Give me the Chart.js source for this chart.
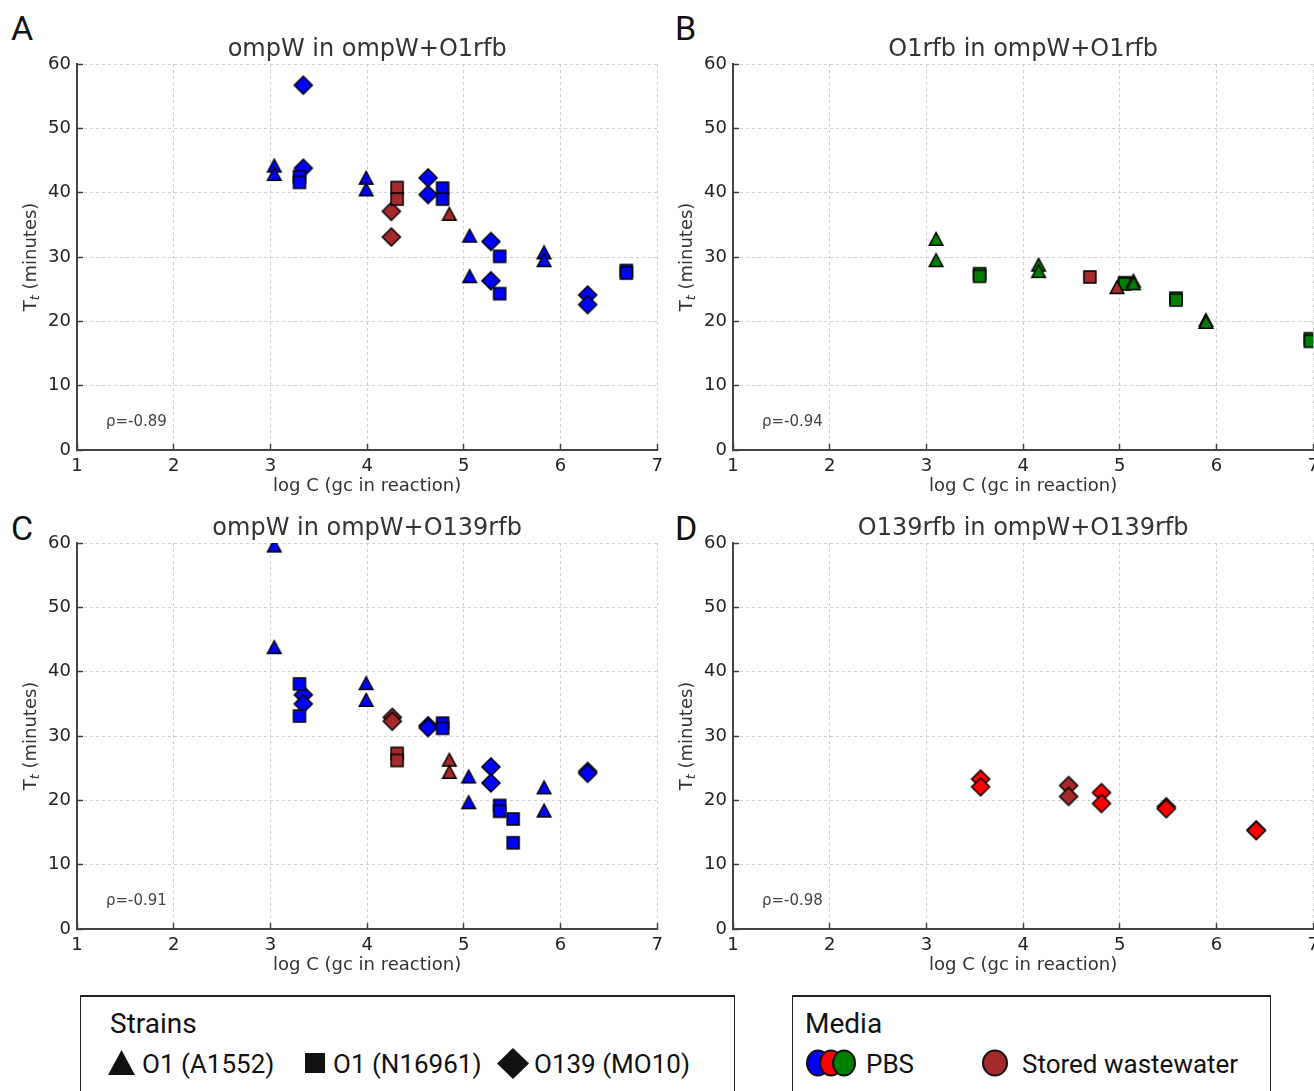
<!DOCTYPE html>
<html>
<head>
<meta charset="utf-8">
<script src="https://cdn.jsdelivr.net/npm/chart.js@4.4.1/dist/chart.umd.min.js"></script>
<style>
  html, body { margin: 0; padding: 0; background: #fff; }
  body { width: 1314px; height: 1091px; overflow: hidden; position: relative; font-family: Roboto, sans-serif; }
  .panel { position: absolute; width: 675px; height: 505px; }
  .letter { position: absolute; font-size: 34px; line-height: 34px; color: #111; }
  .box { position: absolute; top: 995px; height: 130px; box-sizing: border-box;
         border-left: 1.5px solid #222; border-right: 1.5px solid #222; border-top: 2.5px solid #222; }
  .head { position: absolute; top: 1010px; font-size: 28px; line-height: 28px; color: #111; }
  .item { position: absolute; top: 1051px; font-size: 26px; line-height: 26px; color: #111; white-space: nowrap; }
  svg.marks { position: absolute; left: 0; top: 0; }
</style>
</head>
<body>

<div class="letter" style="left:11px;top:11px">A</div>
<div class="letter" style="left:675px;top:11px">B</div>
<div class="letter" style="left:11px;top:511px">C</div>
<div class="letter" style="left:675px;top:511px">D</div>

<div class="panel" style="left:0px;top:0px"><canvas id="chartA" width="675" height="505"></canvas></div>
<div class="panel" style="left:656px;top:0px"><canvas id="chartB" width="675" height="505"></canvas></div>
<div class="panel" style="left:0px;top:479px"><canvas id="chartC" width="675" height="505"></canvas></div>
<div class="panel" style="left:656px;top:479px"><canvas id="chartD" width="675" height="505"></canvas></div>

<!-- legend boxes -->
<div class="box" style="left:80px;width:655px"></div>
<div class="box" style="left:792px;width:479px"></div>
<div class="head" style="left:110px">Strains</div>
<div class="head" style="left:805px">Media</div>
<div class="item" style="left:142px">O1 (A1552)</div>
<div class="item" style="left:333px">O1 (N16961)</div>
<div class="item" style="left:534px">O139 (MO10)</div>
<div class="item" style="left:866px">PBS</div>
<div class="item" style="left:1022px">Stored wastewater</div>
<svg class="marks" width="1314" height="1091">
  <polygon points="108,1075 135,1075 121.5,1050" fill="#111"/>
  <rect x="305" y="1053" width="20" height="20" fill="#111"/>
  <polygon points="513,1048 529,1063.5 513,1079 497,1063.5" fill="#111"/>
  <ellipse cx="818" cy="1063" rx="11" ry="12.5" fill="#0000ff" stroke="#111" stroke-width="2"/>
  <ellipse cx="831" cy="1063" rx="11" ry="12.5" fill="#ff0000" stroke="#111" stroke-width="2"/>
  <ellipse cx="844" cy="1063" rx="11" ry="12.5" fill="#008000" stroke="#111" stroke-width="2"/>
  <ellipse cx="995" cy="1063" rx="12" ry="12.5" fill="#a52a2a" stroke="#111" stroke-width="2"/>
</svg>

<script>
// strain: 0 = O1 (A1552), 1 = O1 (N16961), 2 = O139 (MO10)
// media: 0 = PBS, 1 = Stored wastewater
const strainShapes = ["triangle", "square", "diamond"];
const wastewaterColor = "#a52a2a";

// A: ompW in ompW+O1rfb
const aLogC = [3.04, 3.04, 3.99, 3.99, 5.06, 5.06, 5.83, 5.83, 4.85,
  3.30, 3.30, 4.78, 4.78, 5.37, 5.37, 6.68, 6.68, 4.31, 4.31,
  3.34, 3.34, 4.63, 4.63, 5.28, 5.28, 6.28, 6.28, 4.25, 4.25];
const aTt = [44.2, 42.9, 42.3, 40.5, 33.3, 27.0, 30.7, 29.5, 36.7,
  42.5, 41.6, 40.7, 39.0, 30.1, 24.3, 27.9, 27.5, 40.8, 39.0,
  56.7, 43.8, 42.3, 39.7, 32.4, 26.3, 24.1, 22.6, 37.1, 33.1];
const aStrain = [0, 0, 0, 0, 0, 0, 0, 0, 0,
  1, 1, 1, 1, 1, 1, 1, 1, 1, 1,
  2, 2, 2, 2, 2, 2, 2, 2, 2, 2];
const aMedia = [0, 0, 0, 0, 0, 0, 0, 0, 1,
  0, 0, 0, 0, 0, 0, 0, 0, 1, 1,
  0, 0, 0, 0, 0, 0, 0, 0, 1, 1];

// B: O1rfb in ompW+O1rfb
const bLogC = [3.10, 3.10, 4.16, 4.16, 5.14, 5.14, 5.89, 5.89, 4.97,
  3.55, 3.55, 5.05, 5.05, 5.58, 5.58, 6.97, 6.97, 4.69];
const bTt = [32.8, 29.5, 28.8, 27.8, 26.3, 25.9, 20.2, 19.9, 25.3,
  27.4, 27.0, 26.0, 25.8, 23.6, 23.3, 17.3, 16.9, 26.9];
const bStrain = [0, 0, 0, 0, 0, 0, 0, 0, 0,
  1, 1, 1, 1, 1, 1, 1, 1, 1];
const bMedia = [0, 0, 0, 0, 0, 0, 0, 0, 1,
  0, 0, 0, 0, 0, 0, 0, 0, 1];

// C: ompW in ompW+O139rfb
const cLogC = [3.04, 3.04, 3.99, 3.99, 5.05, 5.05, 5.83, 5.83, 4.85, 4.85,
  3.30, 3.30, 4.78, 4.78, 5.37, 5.37, 5.51, 5.51, 4.31, 4.31,
  3.34, 3.34, 4.63, 4.63, 5.28, 5.28, 6.28, 6.28, 4.26, 4.26];
const cTt = [59.6, 43.8, 38.2, 35.6, 23.7, 19.7, 22.0, 18.4, 26.3, 24.4,
  38.1, 33.1, 32.0, 31.2, 19.2, 18.3, 17.1, 13.4, 27.3, 26.2,
  36.4, 35.0, 31.6, 31.3, 25.2, 22.7, 24.5, 24.2, 32.9, 32.3];
const cStrain = [0, 0, 0, 0, 0, 0, 0, 0, 0, 0,
  1, 1, 1, 1, 1, 1, 1, 1, 1, 1,
  2, 2, 2, 2, 2, 2, 2, 2, 2, 2];
const cMedia = [0, 0, 0, 0, 0, 0, 0, 0, 1, 1,
  0, 0, 0, 0, 0, 0, 0, 0, 1, 1,
  0, 0, 0, 0, 0, 0, 0, 0, 1, 1];

// D: O139rfb in ompW+O139rfb
const dLogC = [3.56, 3.56, 4.81, 4.81, 5.48, 5.48, 6.41, 6.41, 4.47, 4.47];
const dTt = [23.3, 22.1, 21.2, 19.5, 19.0, 18.7, 15.4, 15.3, 22.3, 20.6];
const dStrain = [2, 2, 2, 2, 2, 2, 2, 2, 2, 2];
const dMedia = [0, 0, 0, 0, 0, 0, 0, 0, 1, 1];

const xTicks = [1, 2, 3, 4, 5, 6, 7];
const yTicks = [0, 10, 20, 30, 40, 50, 60];

// marker images (matplotlib-like ^, s, D with black edge)
function makeMarker(shape, fill) {
  const c = document.createElement("canvas");
  c.width = 22;
  c.height = 22;
  const g = c.getContext("2d");
  const m = 11;
  g.beginPath();
  if (shape === "triangle") {
    g.moveTo(m, m - 6.5);
    g.lineTo(m + 6.8, m + 6.3);
    g.lineTo(m - 6.8, m + 6.3);
  } else if (shape === "square") {
    g.rect(m - 6, m - 6, 12, 12);
  } else {
    g.moveTo(m, m - 9);
    g.lineTo(m + 9, m);
    g.lineTo(m, m + 9);
    g.lineTo(m - 9, m);
  }
  g.closePath();
  g.fillStyle = fill;
  g.fill();
  g.lineWidth = 1.5;
  g.strokeStyle = "#000";
  g.stroke();
  return c;
}

function buildDatasets(xs, ys, strain, media, pbsColor) {
  const sets = [];
  for (let s = 0; s < 3; s++) {
    for (let md = 0; md < 2; md++) {
      const pts = [];
      for (let i = 0; i < xs.length; i++) {
        if (strain[i] === s && media[i] === md) pts.push({ x: xs[i], y: ys[i] });
      }
      if (!pts.length) continue;
      sets.push({
        label: strainShapes[s] + (md ? " wastewater" : " PBS"),
        data: pts,
        pointStyle: makeMarker(strainShapes[s], md ? wastewaterColor : pbsColor),
        showLine: false,
      });
    }
  }
  return sets;
}

// title, rho and y label (T with italic subscript t)
const panelText = {
  id: "panelText",
  afterDraw(chart, args, opts) {
    const ctx = chart.ctx;
    const a = chart.chartArea;
    ctx.save();
    ctx.fillStyle = "#333";
    ctx.font = '24px "DejaVu Sans"';
    ctx.textAlign = "center";
    ctx.textBaseline = "alphabetic";
    ctx.fillText(opts.title, (a.left + a.right) / 2, a.top - 8);

    ctx.font = '15px "DejaVu Sans"';
    ctx.textAlign = "left";
    ctx.textBaseline = "middle";
    ctx.fillStyle = "#444";
    ctx.fillText(opts.rho, a.left + 29, a.bottom - 28);

    ctx.translate(31, (a.top + a.bottom) / 2);
    ctx.rotate(-Math.PI / 2);
    ctx.fillStyle = "#333";
    const f1 = '18px "DejaVu Sans"';
    const f2 = 'italic 13px "DejaVu Sans"';
    ctx.font = f1;
    const w1 = ctx.measureText("T").width;
    const w3 = ctx.measureText(" (minutes)").width;
    ctx.font = f2;
    const w2 = ctx.measureText("t").width;
    let x = -(w1 + w2 + w3) / 2;
    ctx.textAlign = "left";
    ctx.font = f1;
    ctx.fillText("T", x, 0);
    x += w1;
    ctx.font = f2;
    ctx.fillText("t", x, 5);
    x += w2;
    ctx.font = f1;
    ctx.fillText(" (minutes)", x, 0);
    ctx.restore();
  },
};

function makeChart(id, datasets, title, rho) {
  return new Chart(document.getElementById(id), {
    type: "scatter",
    data: { datasets: datasets },
    options: {
      responsive: false,
      animation: false,
      layout: { padding: { top: 64, right: 8, bottom: 0, left: 0 } },
      plugins: {
        legend: { display: false },
        tooltip: { enabled: false },
        panelText: { title: title, rho: rho },
      },
      scales: {
        x: {
          type: "linear",
          min: xTicks[0],
          max: xTicks[xTicks.length - 1],
          afterBuildTicks: (s) => { s.ticks = xTicks.map((v) => ({ value: v })); },
          afterFit: (s) => { s.height = 55; },
          ticks: { font: { family: "DejaVu Sans", size: 18 }, color: "#222", padding: 12 },
          grid: { color: "#cfcfcf", lineWidth: 1, tickLength: -6, tickColor: "#444", tickWidth: 1.5 },
          border: { color: "#444", width: 2, dash: [3, 3] },
          title: { display: true, text: "log C (gc in reaction)", color: "#333",
                   font: { family: "DejaVu Sans", size: 18 }, padding: { top: 0, bottom: 8 } },
        },
        y: {
          type: "linear",
          min: yTicks[0],
          max: yTicks[yTicks.length - 1],
          afterBuildTicks: (s) => { s.ticks = yTicks.map((v) => ({ value: v })); },
          afterFit: (s) => { s.width = 77; },
          ticks: { font: { family: "DejaVu Sans", size: 18 }, color: "#222", padding: 12 },
          grid: { color: "#cfcfcf", lineWidth: 1, tickLength: -6, tickColor: "#444", tickWidth: 1.5 },
          border: { color: "#444", width: 2, dash: [3, 3] },
        },
      },
    },
    plugins: [panelText],
  });
}

makeChart("chartA", buildDatasets(aLogC, aTt, aStrain, aMedia, "#0000ff"), "ompW in ompW+O1rfb", "\u03c1=-0.89");
makeChart("chartB", buildDatasets(bLogC, bTt, bStrain, bMedia, "#008000"), "O1rfb in ompW+O1rfb", "\u03c1=-0.94");
makeChart("chartC", buildDatasets(cLogC, cTt, cStrain, cMedia, "#0000ff"), "ompW in ompW+O139rfb", "\u03c1=-0.91");
makeChart("chartD", buildDatasets(dLogC, dTt, dStrain, dMedia, "#ff0000"), "O139rfb in ompW+O139rfb", "\u03c1=-0.98");
</script>
</body>
</html>
